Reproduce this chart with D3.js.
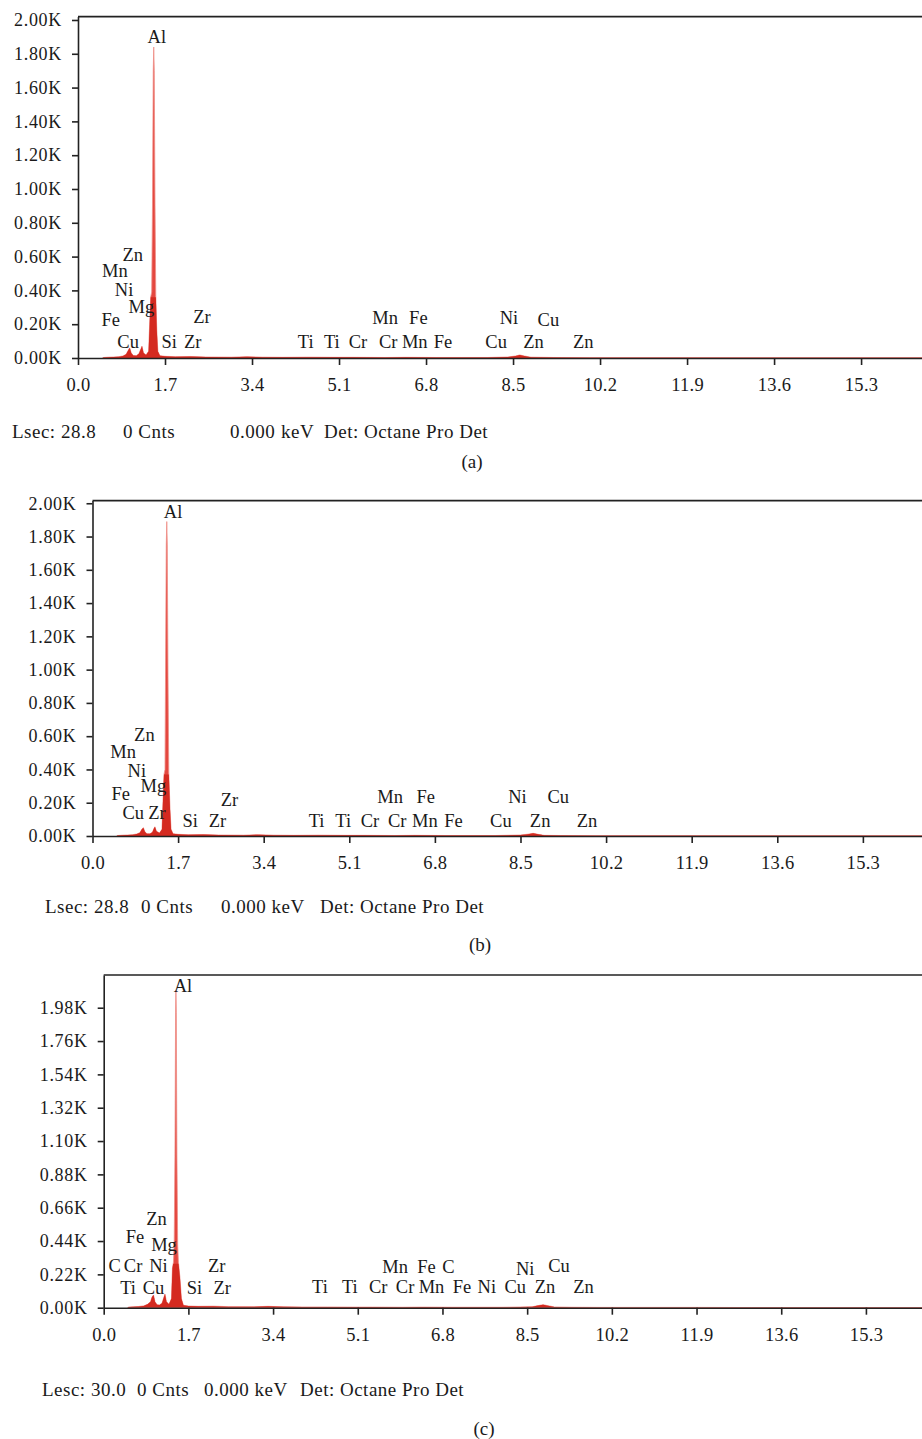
<!DOCTYPE html>
<html>
<head>
<meta charset="utf-8">
<script src="https://cdn.jsdelivr.net/npm/d3@7"></script>
<style>
  body { margin: 0; background: #fff; }
  svg text { font-family: "Liberation Serif", "Times New Roman", serif; fill: #1a1a1a; }
  .axis path, .axis line { stroke: #222; stroke-width: 1.6px; }
</style>
</head>
<body>
<script>
// ---- data ----
// energy ticks (keV)
var xTicks = [0, 1.7, 3.4, 5.1, 6.8, 8.5, 10.2, 11.9, 13.6, 15.3];
var yTicksAB = [0, 200, 400, 600, 800, 1000, 1200, 1400, 1600, 1800, 2000];
var yTicksC = [0, 220, 440, 660, 880, 1100, 1320, 1540, 1760, 1980];

// spectra: [keV, counts]
var spectrumA = [[0.48,0],[0.5,3],[0.6,5],[0.7,6],[0.8,8],[0.88,12],[0.94,22],[0.98,45],[1.01,60],[1.04,30],[1.08,15],
  [1.14,14],[1.19,25],[1.23,55],[1.25,70],[1.28,30],[1.33,18],[1.38,40],[1.40,200],[1.42,360],[1.44,390],[1.455,900],
  [1.47,1700],[1.48,1840],[1.49,1700],[1.505,900],[1.52,370],[1.54,160],[1.56,40],[1.6,14],[1.7,10],[1.9,8],[2.2,9],
  [2.5,6],[3.0,5],[3.3,8],[3.6,5],[4.0,4],[4.5,5],[5.0,4],[5.4,4],[6.0,3],[6.4,4],[7.0,3],[7.5,3],[8.0,3],[8.4,6],
  [8.55,12],[8.63,18],[8.72,12],[8.85,5],[9.3,3],[10,2],[11,2],[12,2],[13,1],[14,1],[15,1],[16.5,1]];
var spectrumB = [[0.48,0],[0.5,3],[0.6,5],[0.7,6],[0.8,8],[0.88,12],[0.94,20],[0.98,40],[1.01,50],[1.04,26],[1.08,14],
  [1.14,13],[1.19,22],[1.22,45],[1.24,55],[1.27,28],[1.33,18],[1.38,40],[1.40,210],[1.42,370],[1.44,400],[1.45,950],
  [1.465,1750],[1.475,1890],[1.485,1750],[1.50,950],[1.515,380],[1.54,160],[1.56,40],[1.6,14],[1.7,10],[1.9,8],[2.2,9],
  [2.5,6],[3.0,5],[3.3,8],[3.6,5],[4.0,4],[4.5,5],[5.0,4],[5.4,4],[6.0,3],[6.4,4],[7.0,3],[7.5,3],[8.0,3],[8.5,6],
  [8.65,11],[8.75,16],[8.85,10],[8.97,4],[9.3,3],[10,2],[11,2],[12,2],[13,1],[14,1],[15,1],[16.5,1]];
var spectrumC = [[0.48,0],[0.5,4],[0.6,6],[0.7,8],[0.8,12],[0.88,22],[0.94,40],[0.97,70],[1.0,84],[1.03,40],[1.07,20],
  [1.12,18],[1.17,30],[1.21,70],[1.23,90],[1.26,40],[1.31,22],[1.36,60],[1.38,260],[1.40,300],[1.415,420],[1.43,1000],
  [1.443,1950],[1.45,2097],[1.457,1950],[1.47,1000],[1.485,420],[1.50,300],[1.53,200],[1.56,60],[1.6,16],[1.7,11],
  [1.9,9],[2.2,10],[2.5,7],[3.0,6],[3.3,9],[3.6,6],[4.0,5],[4.5,5],[5.0,4],[5.4,4],[6.0,3],[6.4,4],[7.0,3],[7.5,3],
  [8.0,3],[8.6,6],[8.72,14],[8.82,20],[8.92,13],[9.05,5],[9.4,3],[10,2],[11,2],[12,2],[13,1],[14,1],[15,1],[16.5,1]];

// element labels: [text, keV, counts] (text baseline)
var labelsA = [["Al",1.54,1863],["Zn",1.07,574],["Mn",0.72,479],["Ni",0.90,367],["Mg",1.24,266],["Fe",0.64,189],
  ["Zr",2.42,207],["Cu",0.98,59],["Si",1.78,59],["Zr",2.24,59],["Ti",4.45,59],["Ti",4.96,59],["Cr",5.47,59],
  ["Cr",6.06,59],["Mn",6.58,59],["Fe",7.13,59],["Cu",8.17,59],["Zn",8.90,59],["Zn",9.87,59],
  ["Mn",6.00,201],["Fe",6.65,201],["Ni",8.42,201],["Cu",9.19,189]];
var labelsB = [["Al",1.60,1912],["Zn",1.03,571],["Mn",0.61,467],["Ni",0.88,355],["Mg",1.21,262],["Fe",0.56,216],
  ["Cu",0.81,100],["Zr",1.28,100],["Si",1.94,56],["Zr",2.48,56],["Zr",2.72,182],["Ti",4.45,52],["Ti",4.98,52],
  ["Cr",5.51,52],["Cr",6.05,52],["Mn",6.60,52],["Fe",7.17,52],["Cu",8.11,52],["Zn",8.89,52],["Zn",9.82,52],
  ["Mn",5.91,200],["Fe",6.62,200],["Ni",8.44,200],["Cu",9.25,200]];
var labelsC = [["Al",1.59,2086],["Zn",1.06,546],["Fe",0.63,425],["Mg",1.21,371],["C",0.22,234],["Cr",0.59,234],
  ["Ni",1.10,234],["Ti",0.49,90],["Cu",1.00,90],["Si",1.82,90],["Zr",2.38,90],["Zr",2.27,234],["Ti",4.34,95],
  ["Ti",4.94,95],["Cr",5.51,95],["Cr",6.05,95],["Mn",6.58,95],["Fe",7.19,95],["Ni",7.69,95],["Cu",8.26,95],
  ["Zn",8.86,95],["Zn",9.63,95],["Mn",5.85,227],["Fe",6.48,227],["C",6.92,227],["Ni",8.46,216],["Cu",9.14,234]];

var footerA = ["Lsec: 28.8", "0 Cnts", "0.000", "keV", "Det: Octane Pro Det"];
var footerB = ["Lsec: 28.8", "0 Cnts", "0.000 keV", "Det: Octane Pro Det"];
var footerC = ["Lesc: 30.0", "0 Cnts", "0.000 keV", "Det: Octane Pro Det"];

var svg = d3.select("body").append("svg")
    .attr("width", 922)
    .attr("height", 1439);

// one EDS panel
function drawPanel(p) {
    var g = svg.append("g");
    var x = d3.scaleLinear().domain([0, 16.5]).range([p.left, p.right]);
    var y = d3.scaleLinear().domain([0, p.yMax]).range([p.bottom, p.top]);

    var area = d3.area()
        .x(function(d) { return x(d[0]); })
        .y0(y(0))
        .y1(function(d) { return y(d[1]); });

    g.append("path")
        .datum(p.spectrum)
        .attr("d", area)
        .attr("fill", "#e4473f")
        .attr("stroke", "#ef9089")
        .attr("stroke-width", 0.8);

    // darker lower body of the peaks
    var clipId = "clip" + p.name;
    g.append("clipPath").attr("id", clipId)
      .append("rect")
        .attr("x", p.left).attr("y", y(p.darkTop))
        .attr("width", p.right - p.left).attr("height", y(0) - y(p.darkTop));
    g.append("path")
        .datum(p.spectrum)
        .attr("d", area)
        .attr("clip-path", "url(#" + clipId + ")")
        .attr("fill", "#d42a20");

    // frame top
    g.append("line")
        .attr("x1", p.left).attr("x2", 922)
        .attr("y1", p.top).attr("y2", p.top)
        .attr("stroke", "#222").attr("stroke-width", 1.6);

    var yAxis = d3.axisLeft(y).tickValues(p.yTicks).tickSize(6).tickSizeOuter(0).tickPadding(10)
        .tickFormat(function(d) { return (d / 1000).toFixed(2) + "K"; });
    var gy = g.append("g").attr("class", "axis")
        .attr("transform", "translate(" + p.left + ",0)")
        .call(yAxis);
    gy.selectAll("text").style("font-size", "18px").style("letter-spacing", "0.7px")
        .style("font-family", "Liberation Serif");

    var xAxis = d3.axisBottom(x).tickValues(xTicks).tickSize(7).tickSizeOuter(0).tickPadding(13)
        .tickFormat(function(d) { return d.toFixed(1); });
    var gx = g.append("g").attr("class", "axis")
        .attr("transform", "translate(0," + y(0) + ")")
        .call(xAxis);
    gx.selectAll("text").style("font-size", "18.5px").style("letter-spacing", "0.3px")
        .style("font-family", "Liberation Serif");

    g.selectAll(".el")
        .data(p.labels)
        .enter().append("text")
        .attr("class", "el")
        .attr("x", function(d) { return x(d[1]); })
        .attr("y", function(d) { return y(d[2]); })
        .attr("text-anchor", "middle")
        .style("font-size", "18.5px")
        .text(function(d) { return d[0]; });

    g.selectAll(".ft")
        .data(p.footer)
        .enter().append("text")
        .attr("class", "ft")
        .attr("x", function(d, i) { return p.footerX[i]; })
        .attr("y", p.footerY)
        .style("font-size", "19px")
        .style("letter-spacing", "0.5px")
        .text(function(d) { return d; });

    g.append("text")
        .attr("x", p.capX).attr("y", p.capY)
        .attr("text-anchor", "middle")
        .style("font-size", "19px")
        .text(p.caption);
}

drawPanel({name: "a", spectrum: spectrumA, labels: labelsA, yTicks: yTicksAB, yMax: 2020, darkTop: 360,
    left: 78, right: 922.5, top: 16.6, bottom: 358,
    footer: footerA, footerX: [12, 123, 230, 281, 324], footerY: 438, caption: "(a)", capX: 472, capY: 468});
drawPanel({name: "b", spectrum: spectrumB, labels: labelsB, yTicks: yTicksAB, yMax: 2016, darkTop: 370,
    left: 92.5, right: 923.3, top: 500.6, bottom: 836,
    footer: footerB, footerX: [45, 141, 221, 320], footerY: 913, caption: "(b)", capX: 480, capY: 951});
drawPanel({name: "c", spectrum: spectrumC, labels: labelsC, yTicks: yTicksC, yMax: 2196, darkTop: 290,
    left: 103.7, right: 925.7, top: 975, bottom: 1307.7,
    footer: footerC, footerX: [42, 137, 204, 300], footerY: 1396, caption: "(c)", capX: 484, capY: 1435});
</script>
</body>
</html>
